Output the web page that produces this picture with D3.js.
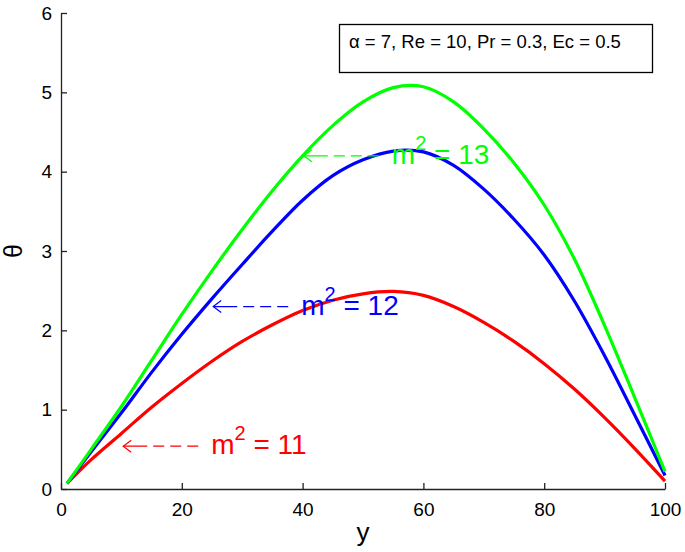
<!DOCTYPE html>
<html>
<head>
<meta charset="utf-8">
<script src="https://cdn.jsdelivr.net/npm/d3@7"></script>
<style>
	body { margin: 0; background: #fff; }
	svg { display: block; font-family: "Liberation Sans", Arial, sans-serif; }
</style>
</head>
<body>
<svg id="chart" width="685" height="552"></svg>
<script>
// values
const xs = [1, 5, 10, 15, 20, 25, 30, 35, 40, 45, 50, 55, 60, 65, 70, 75, 80, 85, 90, 95, 100]
const theta11 = [0.07, 0.37, 0.7, 1.03, 1.33, 1.61, 1.86, 2.07, 2.25, 2.38, 2.46, 2.49, 2.44, 2.3, 2.1, 1.86, 1.58, 1.26, 0.9, 0.51, 0.1]
const theta12 = [0.07, 0.47, 0.96, 1.47, 1.95, 2.4, 2.83, 3.25, 3.64, 3.95, 4.15, 4.26, 4.25, 4.08, 3.78, 3.4, 2.95, 2.37, 1.68, 0.93, 0.17]
const theta13 = [0.07, 0.5, 1.04, 1.62, 2.2, 2.75, 3.27, 3.76, 4.2, 4.58, 4.88, 5.06, 5.07, 4.88, 4.54, 4.11, 3.58, 2.9, 2.06, 1.15, 0.22]

const xTicks = [0, 20, 40, 60, 80, 100]
const yTicks = [0, 1, 2, 3, 4, 5, 6]

const series = [
	{m2: 11, values: theta11, color: '#ff0000', tip: [10.3, 0.54]},
	{m2: 12, values: theta12, color: '#0000ff', tip: [25.2, 2.3]},
	{m2: 13, values: theta13, color: '#00ff00', tip: [40.2, 4.2]},
]

const svg = d3.select('#chart')
const x = d3.scaleLinear().domain([0, 100]).range([61, 665])
const y = d3.scaleLinear().domain([0, 6]).range([489, 13])

// axes, ticks pointing inward like matlab
const xAxis = svg.append('g')
	.attr('transform', `translate(0,${y(0)})`)
	.call(d3.axisBottom(x).tickValues(xTicks).tickFormat(d3.format('d')).tickSizeInner(-6).tickSizeOuter(0).tickPadding(14))
const yAxis = svg.append('g')
	.attr('transform', `translate(${x(0)},0)`)
	.call(d3.axisLeft(y).tickValues(yTicks).tickFormat(d3.format('d')).tickSizeInner(-6).tickSizeOuter(0).tickPadding(9))

for (const ax of [xAxis, yAxis]) {
	ax.select('.domain').attr('stroke', '#222').attr('stroke-width', 1.3)
	ax.selectAll('.tick line').attr('stroke', '#222').attr('stroke-width', 1.3)
	ax.selectAll('.tick text').attr('fill', '#000').style('font-size', '19px').style('font-family', '"Liberation Sans", Arial, sans-serif')
}

// curves
const line = d3.line()
	.x((d, i) => x(xs[i]))
	.y(d => y(d))
	.curve(d3.curveCatmullRom)

svg.append('g').selectAll('path')
	.data(series)
	.join('path')
	.attr('d', d => line(d.values))
	.attr('fill', 'none')
	.attr('stroke', d => d.color)
	.attr('stroke-width', 3.2)
	.attr('stroke-linejoin', 'round')

// "<---- m^2 = n" labels
const labels = svg.append('g')
for (const s of series) {
	const tx = x(s.tip[0])
	const ty = y(s.tip[1])
	const g = labels.append('g').attr('stroke', s.color).attr('fill', 'none').attr('stroke-width', 1.2)
	g.append('line')
		.attr('x1', tx).attr('y1', ty).attr('x2', tx + 78).attr('y2', ty)
		.attr('stroke-dasharray', '24 6 11 6 11 6 11 6')
	g.append('path')
		.attr('d', `M${tx + 8},${ty - 6}L${tx},${ty}L${tx + 8},${ty + 6}`)

	const t = labels.append('text')
		.attr('x', tx + 88).attr('y', ty + 8)
		.attr('fill', s.color)
		.style('font-size', '28px')
	t.append('tspan').text('m')
	t.append('tspan').attr('dy', -14).style('font-size', '20px').text('2')
	t.append('tspan').attr('dy', 14).text(` = ${s.m2}`)
}

// parameter box
svg.append('rect')
	.attr('x', 339.5).attr('y', 24.5).attr('width', 313).attr('height', 48)
	.attr('fill', '#fff').attr('stroke', '#000').attr('stroke-width', 1.3)
svg.append('text')
	.attr('x', 349).attr('y', 48)
	.style('font-size', '18.5px')
	.text('α = 7, Re = 10, Pr = 0.3, Ec = 0.5')

// axis titles
svg.append('text')
	.attr('x', 363).attr('y', 541)
	.attr('text-anchor', 'middle')
	.style('font-size', '26px')
	.text('y')
svg.append('text')
	.attr('transform', `translate(22,${y(3)}) rotate(-90)`)
	.attr('text-anchor', 'middle')
	.style('font-size', '25px')
	.text('θ')
</script>
</body>
</html>
